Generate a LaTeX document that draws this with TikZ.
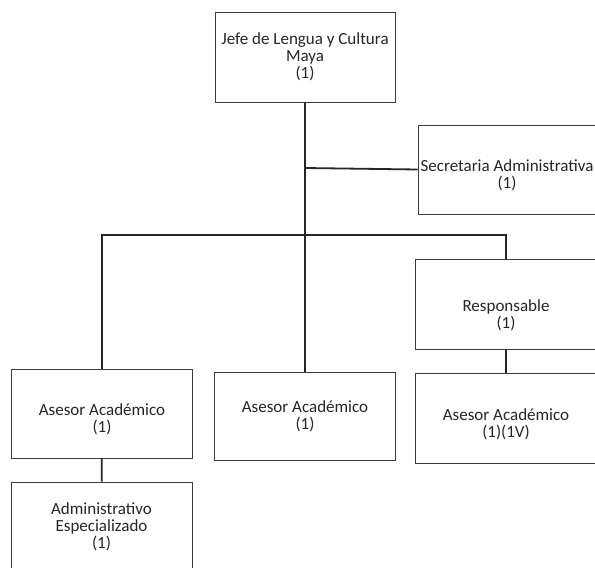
\documentclass[tikz,border=0pt]{standalone}
\usepackage{fontspec}
\setmainfont{Carlito}
\definecolor{tinta}{HTML}{262626}
\definecolor{borde}{HTML}{3C3C3C}
\newcommand{\bajar}[1]{\rule{0pt}{#1}}
\tikzset{
    puesto/.style={draw=borde,line width=0.9pt,align=center,inner sep=0pt,
        minimum width=181pt,minimum height=90pt,text=tinta,
        font=\fontsize{17}{17}\selectfont},
    linea/.style={draw=tinta,line width=1.8pt}
}
\begin{document}
\begin{tikzpicture}[x=1pt,y=-1pt]
\clip (0,0) rectangle (595,568);
\fill[white] (0,0) rectangle (595,568);
% jefatura
\node[puesto,minimum width=180pt] (jefe) at (305,57) {Jefe de Lengua y Cultura\\Maya\\(1)};
\node[puesto,minimum width=178pt,minimum height=89pt] (secre) at (507,169.5) {\bajar{23pt}Secretaria Administrativa\\(1)};
\node[puesto,minimum width=182pt] (resp) at (506,304) {\bajar{34pt}Responsable\\(1)};
% asesores
\node[puesto,minimum height=89pt] (ase1) at (102,413.5) {\bajar{23pt}Asesor Académico\\(1)};
\node[puesto,minimum height=88pt] (ase2) at (305,416) {Asesor Académico\\(1)};
\node[puesto,minimum width=182pt] (ase3) at (506,418) {\bajar{25pt}Asesor Académico\\(1)(1V)};
\node[puesto] (admin) at (101.5,527) {Administrativo\\Especializado\\(1)};
\coordinate (barra) at (305,235);
\coordinate (rama) at (305,168);
\draw[linea] (jefe) -- (ase2);
\draw[linea] (rama) -- (secre.west);
\draw[linea] (ase1.north) |- (barra) -| (resp.north);
\draw[linea] (ase1) -- (admin);
\draw[linea] (resp) -- (ase3);
\end{tikzpicture}
\end{document}
